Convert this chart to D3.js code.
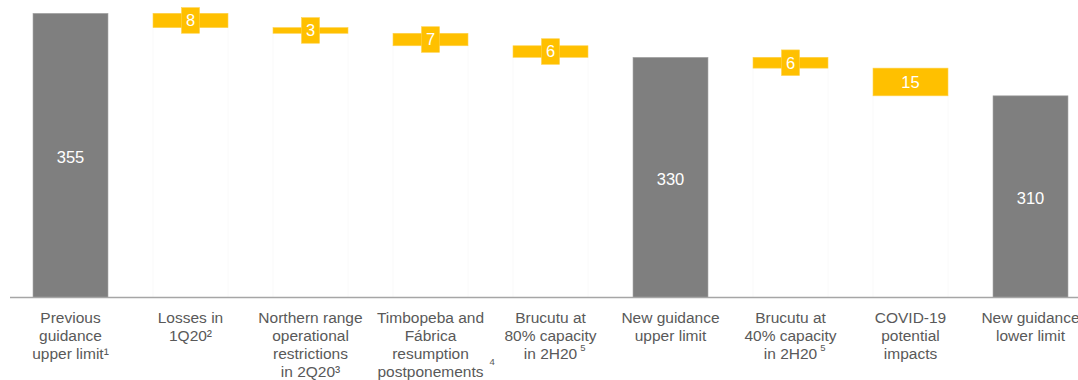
<!DOCTYPE html>
<html>
<head>
<meta charset="utf-8">
<script src="https://cdn.jsdelivr.net/npm/d3@7"></script>
<style>
  body { margin: 0; background: #fff; }
  svg { display: block; font-family: "Liberation Sans", Arial, sans-serif; }
</style>
</head>
<body>
<div id="chart"></div>
<script>
// categories, each as lines of text
var categories = [
    ["Previous", "guidance", "upper limit\u00b9"],
    ["Losses in", "1Q20\u00b2"],
    ["Northern range", "operational", "restrictions", "in 2Q20\u00b3"],
    ["Timbopeba and", "F\u00e1brica", "resumption", "postponements"],
    ["Brucutu at", "80% capacity", "in 2H20"],
    ["New guidance", "upper limit"],
    ["Brucutu at", "40% capacity", "in 2H20"],
    ["COVID-19", "potential", "impacts"],
    ["New guidance", "lower limit"]
];
// "total" bars stand on the axis, "delta" bars float
var barType = ["total", "delta", "delta", "delta", "delta", "total", "delta", "delta", "total"];
// bar sizes (Mt)
var values = [355, 7.8, 3.1, 6.8, 6.3, 331, 5.9, 15.1, 310];
// printed labels
var valueLabels = ["355", "8", "3", "7", "6", "330", "6", "15", "310"];
// footnote marks drawn apart from the label lines
var footnotes = [
    {cat: 3, line: 3, mark: "4"},
    {cat: 4, line: 2, mark: "5"},
    {cat: 6, line: 2, mark: "5"}
];

var width = 1078, height = 380;
var baseY = 297.5;

var svg = d3.select("#chart").append("svg")
    .attr("width", width)
    .attr("height", height);

var x = d3.scaleBand()
    .domain(d3.range(categories.length))
    .range([10.5, 1090.5])
    .paddingInner(0.375)
    .paddingOuter(0.1875);

var y = d3.scaleLinear()
    .domain([200, 355])
    .range([baseY, 13.3]);

// running levels for the waterfall
var bars = [];
var level = 0;
values.forEach(function (v, i) {
    if (barType[i] === "total") {
        level = v;
        bars.push({i: i, top: v, bottom: 200, type: "total"});
    } else {
        bars.push({i: i, top: level, bottom: level - v, type: "delta"});
        level = level - v;
    }
});

// faint invisible base under the floating bars
svg.selectAll(".ghost")
    .data(bars.filter(function (d) { return d.type === "delta"; }))
    .enter()
    .append("rect")
    .attr("class", "ghost")
    .attr("x", function (d) { return x(d.i); })
    .attr("y", function (d) { return y(d.bottom); })
    .attr("width", x.bandwidth())
    .attr("height", function (d) { return baseY - y(d.bottom); })
    .attr("fill", "#fff")
    .attr("stroke", "#fafafa");

svg.selectAll(".bar")
    .data(bars)
    .enter()
    .append("rect")
    .attr("class", "bar")
    .attr("x", function (d) { return x(d.i); })
    .attr("y", function (d) { return y(d.top); })
    .attr("width", x.bandwidth())
    .attr("height", function (d) { return y(d.bottom) - y(d.top); })
    .attr("fill", function (d) { return d.type === "total" ? "#7f7f7f" : "#ffc000"; })
    .attr("stroke", function (d) { return d.type === "total" ? "#a8a8a8" : "#ffd34d"; })
    .attr("stroke-width", 0.6);

// small boxes behind labels of thin bars
svg.selectAll(".labelBox")
    .data(bars.filter(function (d) { return d.type === "delta" && y(d.bottom) - y(d.top) < 22; }))
    .enter()
    .append("rect")
    .attr("class", "labelBox")
    .attr("x", function (d) { return x(d.i) + x.bandwidth() / 2 - 9; })
    .attr("y", function (d) { return (y(d.top) + y(d.bottom)) / 2 - 12.8; })
    .attr("width", 18)
    .attr("height", 25.6)
    .attr("fill", "#ffc000")
    .attr("stroke", "#ffd34d")
    .attr("stroke-width", 0.6);

svg.selectAll(".value")
    .data(bars)
    .enter()
    .append("text")
    .attr("class", "value")
    .attr("x", function (d) { return x(d.i) + x.bandwidth() / 2; })
    .attr("y", function (d) {
        if (d.type === "total") return (y(d.top) + baseY) / 2 + 1.5;
        return (y(d.top) + y(d.bottom)) / 2;
    })
    .attr("dy", "0.36em")
    .attr("text-anchor", "middle")
    .attr("fill", "#fff")
    .style("font-size", "16.5px")
    .text(function (d) { return valueLabels[d.i]; });

// axis line
svg.append("line")
    .attr("x1", 10)
    .attr("x2", width)
    .attr("y1", baseY)
    .attr("y2", baseY)
    .attr("stroke", "#a6a6a6")
    .attr("stroke-width", 1.6);

// category labels
var cats = svg.selectAll(".cat")
    .data(categories)
    .enter()
    .append("text")
    .attr("class", "cat")
    .attr("text-anchor", "middle")
    .attr("fill", "#595959")
    .style("font-size", "15.5px");

cats.selectAll("tspan")
    .data(function (d, i) { return d.map(function (t) { return {t: t, i: i}; }); })
    .enter()
    .append("tspan")
    .attr("x", function (d) { return x(d.i) + x.bandwidth() / 2; })
    .attr("y", function (d, j) { return 322.5 + j * 18; })
    .text(function (d) { return d.t; });

footnotes.forEach(function (f) {
    var tsp = cats.filter(function (d, i) { return i === f.cat; })
        .selectAll("tspan").filter(function (d, j) { return j === f.line; });
    var len = tsp.node().getComputedTextLength();
    var cx = x(f.cat) + x.bandwidth() / 2;
    var lineY = 322.5 + f.line * 18;
    svg.append("text")
        .attr("x", cx + len / 2 + (f.mark === "4" ? 6 : 3))
        .attr("y", lineY - (f.mark === "4" ? 12 : 8))
        .attr("fill", "#595959")
        .style("font-size", "9.5px")
        .text(f.mark);
});
</script>
</body>
</html>
